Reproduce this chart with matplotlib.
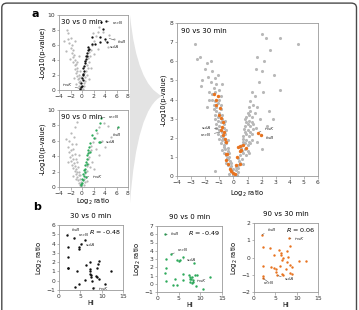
import matplotlib
matplotlib.use("Agg")
import matplotlib.pyplot as plt
from matplotlib.patches import FancyBboxPatch, PathPatch
from matplotlib.path import Path

plt.rcParams['font.family'] = 'DejaVu Sans'
plt.rcParams['font.size'] = 4.5

# ---------------- data: panel a, 30 vs 0 min ----------------
g30_x = [-0.1, -0.3, -0.2, -0.5, -0.4, -0.6, -0.3, -0.7, -0.5, -0.9, -0.6, -1.0, -0.8, -1.2, -0.9,
         -1.3, -1.1, -1.5, -1.2, -1.6, -1.4, -1.8, -1.5, -2.0, -1.7, -2.2, -2.5, -1.9, -2.4, -2.8,
         -2.1, -0.8, -1.0, -1.4, -0.2, -0.4, -3.1, -2.6, -1.2, -0.5,
         0.2, 0.4, 0.3, 0.6, 0.5, 0.8, 0.7, 1.0, 0.9, 1.2, 1.1, 1.4, 1.3, 1.6, 1.8, 2.1, 2.4, 1.5,
         0.6, 2.0, 2.7, 3.0, 3.6, 4.7, 5.6, 4.5, 1.9, 2.8, 1.2, 0.3]
g30_y = [0.1, 0.3, 0.6, 0.5, 0.9, 1.1, 1.2, 1.5, 1.6, 1.9, 2.0, 2.3, 2.5, 2.8, 3.0,
         3.3, 3.5, 3.8, 4.0, 4.4, 4.7, 5.0, 5.3, 5.6, 6.0, 6.3, 6.8, 7.0, 7.6, 5.2,
         4.2, 3.8, 0.8, 1.6, 1.8, 2.6, 6.5, 8.0, 6.6, 4.5,
         0.2, 0.5, 0.9, 1.2, 1.7, 2.0, 2.6, 2.9, 3.4, 3.7, 4.3, 4.6, 5.1, 5.4, 6.0, 6.6, 7.2, 3.0,
         3.9, 4.8, 7.8, 8.4, 7.7, 7.3, 6.8, 5.8, 7.6, 5.5, 1.5, 2.3]
s30_x = [3.3, 4.2, 3.6, 1.7, 3.2, 4.0, 2.2, 3.2, 1.7, 1.1, 1.0, 0.8, 0.66, 0.54, 0.25, 0.14, 0.02,
         -0.1, -0.2, -0.33, 0.7, 0.4, 0.3, 0.1, -0.05, 1.2, 0.9, 0.6, 0.2, 4.4]
s30_y = [9.1, 9.2, 8.2, 7.1, 7.1, 6.8, 6.2, 6.4, 6.2, 5.8, 5.3, 4.9, 4.2, 3.6, 2.9, 2.2, 1.6,
         0.9, 0.36, 0.1, 4.5, 3.2, 2.5, 1.3, 0.6, 5.5, 4.6, 3.9, 2.0, 6.4]

# ---------------- data: panel a, 90 vs 0 min ----------------
g90_x = [-0.1, -0.3, -0.5, -0.2, -0.7, -0.4, -0.9, -0.6, -1.1, -0.8, -1.3, -1.0, -0.5, -1.5, -1.2,
         -0.7, -1.7, -1.4, -0.9, -1.9, -1.6, -1.1, -2.1, -1.8, -1.3, -2.3, -2.0, -1.5, -2.5, -1.8,
         -2.2, -1.0, -1.4, -2.0, -1.2, -0.8, -2.8, -0.3, -1.6, -2.4, -0.6, -1.0,
         0.3, 0.5, 0.4, 0.7, 0.6, 0.9, 0.8, 1.1, 1.0, 1.3, 1.2, 1.5, 1.6, 1.9, 2.2, 1.4, 0.9, 1.7,
         2.4, 2.6, 3.0, 3.8, 4.5, 5.1, 4.0, 2.9, 2.0, 3.4]
g90_y = [0.1, 0.3, 0.5, 0.7, 0.9, 1.1, 1.3, 1.5, 1.7, 1.9, 2.1, 2.3, 2.0, 2.5, 2.7,
         2.6, 2.9, 3.1, 3.2, 3.4, 3.6, 3.7, 3.9, 4.1, 4.3, 4.5, 4.8, 5.0, 5.2, 5.6,
         6.0, 5.6, 6.5, 7.0, 7.8, 8.5, 6.2, 1.6, 1.4, 3.3, 4.2, 1.0,
         0.2, 0.6, 1.0, 1.3, 1.8, 2.1, 2.7, 3.0, 3.6, 3.9, 4.5, 4.8, 5.3, 5.8, 6.4, 2.6, 0.8, 3.3,
         5.0, 7.0, 7.8, 8.3, 7.9, 6.5, 5.2, 4.2, 2.4, 6.0]
s90_x = [3.28, 3.16, 2.46, 6.25, 2.9, 3.2, 1.4, 1.24, 1.13, 0.95, 0.83, 0.72, 0.54, 0.43, 0.25,
         0.08, -0.04, -0.15, 1.4, 1.7, 0.72, 0.6, 0.3, 0.9, 1.0, 0.5, 0.15, 2.1, -0.1]
s90_y = [9.0, 8.3, 7.4, 7.8, 5.9, 5.8, 5.65, 5.2, 4.8, 4.1, 3.7, 3.3, 2.8, 2.2, 1.7,
         1.1, 0.57, 0.2, 4.6, 6.7, 1.3, 2.4, 1.4, 3.0, 4.4, 2.0, 0.9, 6.3, 0.35]

# ---------------- data: panel a, 90 vs 30 min ----------------
g9030_x = [-0.3, -0.2, -0.1, 0.0, -0.25, -0.15, -0.05,
           -0.5, -0.4, -0.35, -0.25, -0.15, -0.45, -0.3,
           -0.7, -0.6, -0.5, -0.4, -0.3, -0.65, -0.35, -0.8,
           -0.9, -0.8, -0.7, -0.6, -0.5, -0.4, -1.0, -0.75,
           -1.1, -1.0, -0.9, -0.8, -0.7, -0.6, -0.5, -1.2,
           -1.2, -1.1, -1.0, -0.9, -0.8, -0.7, -0.6, -1.3,
           -1.3, -1.2, -1.1, -1.0, -0.9, -0.8, -1.4,
           -1.4, -1.3, -1.2, -1.1, -1.0, -0.9, -1.5,
           -1.5, -1.4, -1.3, -1.2, -1.0, -1.6, -1.7, -0.9,
           -1.8, -1.5, -2.0, -1.3, -1.9, -2.4, -1.6, -2.2, -1.1,
           -2.7, -2.6, -2.3, -1.7, -1.9, -1.3, -0.8,
           0.1, 0.2, 0.3, 0.15, 0.35, 0.25,
           0.3, 0.4, 0.5, 0.6, 0.35, 0.7,
           0.5, 0.6, 0.7, 0.8, 0.9, 1.0, 0.55, 1.1,
           0.6, 0.7, 0.8, 0.9, 1.0, 1.1, 1.2, 1.3, 0.65,
           0.7, 0.8, 0.9, 1.0, 1.1, 1.2, 1.3, 1.4, 0.75,
           0.8, 0.9, 1.0, 1.1, 1.2, 1.3, 1.4, 0.85,
           0.9, 1.0, 1.1, 1.2, 1.3, 1.5,
           1.1, 1.2, 1.4, 1.5, 1.3, 1.7,
           2.0, 2.3, 3.3, 4.6, 2.6, 1.7, 1.6, 2.0, 2.1, 2.9, 3.3, 1.9, 2.5, 2.8,
           2.2, 1.8, 2.4, 1.6, 1.7, 2.0]
g9030_y = [0.1, 0.3, 0.2, 0.05, 0.4, 0.5, 0.35,
           0.7, 0.9, 0.6, 0.8, 0.7, 0.95, 1.0,
           1.2, 1.4, 1.1, 1.3, 1.2, 1.5, 1.45, 1.35,
           1.7, 1.9, 1.6, 1.8, 1.7, 1.9, 1.95, 2.0,
           2.2, 2.4, 2.1, 2.3, 2.5, 2.2, 2.4, 2.5,
           2.7, 2.9, 2.6, 2.8, 3.0, 2.7, 2.9, 3.0,
           3.2, 3.4, 3.1, 3.3, 3.5, 3.2, 3.5,
           3.7, 3.9, 3.6, 3.8, 4.0, 3.7, 4.0,
           4.3, 4.6, 4.4, 4.8, 4.5, 4.9, 4.4, 4.2,
           5.2, 5.5, 5.6, 5.1, 5.9, 6.2, 6.0, 5.0, 5.3,
           6.9, 6.1, 4.7, 4.0, 3.6, 0.25, 4.8,
           0.1, 0.3, 0.2, 0.45, 0.4, 0.05,
           0.6, 0.8, 0.7, 0.9, 0.95, 0.65,
           1.1, 1.3, 1.2, 1.4, 1.1, 1.3, 1.45, 1.2,
           1.6, 1.8, 1.7, 1.9, 1.6, 1.8, 1.7, 1.9, 1.95,
           2.1, 2.3, 2.2, 2.4, 2.1, 2.3, 2.2, 2.45, 2.45,
           2.6, 2.8, 2.7, 2.9, 2.6, 2.8, 2.7, 3.0,
           3.1, 3.3, 3.2, 3.4, 3.1, 3.3,
           3.6, 3.9, 3.7, 4.2, 4.4, 3.6,
           7.4, 7.2, 7.2, 6.9, 6.6, 6.2, 5.6, 5.5, 4.4, 5.3, 4.5, 3.0, 3.4, 3.0,
           6.0, 4.9, 2.6, 2.5, 1.8, 1.4]
s9030_x = [-1.38, -1.09, -1.21, -0.97, -1.04, -0.86, -0.74, -0.78, -0.69, -0.74, -0.62, -0.55,
           -0.55, -0.45, -0.38, -0.26, -0.15, -0.03, -1.21, -0.86, -0.5,
           0.09, 0.21, 0.26, 0.33, 0.49, 0.68, 0.56, 0.44, 0.44, 0.87, 1.74, 1.98]
s9030_y = [4.27, 4.19, 3.71, 3.54, 3.19, 3.01, 2.84, 2.57, 2.31, 2.14, 1.96, 1.79,
           1.17, 1.14, 0.65, 0.39, 0.26, 0.16, 3.98, 2.4, 0.82,
           0.12, 0.56, 1.0, 1.52, 1.56, 1.61, 1.38, 1.31, 0.65, 1.49, 2.26, 2.14]

# ---------------- data: panel b (HI vs log2 ratio) ----------------
hi_30 = [1.8, 3.4, 5.1, 4.7, 4.8, 6.2, 2.0, 2.0, 2.1, 2.2, 4.3, 6.25, 7.2, 7.3, 7.3, 7.4, 7.6,
         9.3, 9.1, 9.0, 8.7, 8.9, 9.3, 6.2, 7.8, 4.7, 3.8, 7.9, 10.8, 12.3, 7.3]
lr_30 = [4.93, 4.57, 4.0, 3.6, 3.4, 4.4, 3.6, 2.6, 1.4, 1.35, 1.0, 1.7, 1.3, 1.0, 0.7, 0.6, 0.4,
         2.1, 1.75, 1.4, 0.5, 0.36, 0.2, 0.1, 0.0, -0.36, -0.7, -0.75, -0.4, 1.0, 2.0]
hi_90 = [1.8, 3.3, 4.7, 5.0, 5.3, 6.1, 2.1, 2.0, 1.9, 2.0, 4.1, 3.7, 4.7, 6.1, 6.1, 7.3, 7.5,
         7.6, 7.9, 8.0, 8.3, 8.4, 7.5, 8.8, 9.3, 8.6, 9.0, 10.7, 12.3, 8.0]
lr_90 = [6.0, 3.6, 2.9, 2.7, 2.85, 3.2, 3.0, 1.9, 1.35, 0.35, 0.54, -0.1, -0.1, 1.15, 0.46, 1.04,
         0.85, 0.6, 0.54, 0.77, 0.46, 0.27, 0.27, 1.04, 1.04, 2.46, -0.23, -0.58, 0.85, 0.1]
hi_9030 = [1.77, 8.2, 2.1, 3.8, 8.5, 7.7, 5.9, 4.8, 6.4, 6.4, 6.7, 6.5, 7.9, 7.7, 10.6, 12.3,
           2.1, 4.1, 4.6, 5.2, 6.2, 7.5, 8.5, 8.8, 8.5, 5.2, 6.5, 6.9, 9.0, 2.1, 2.1, 5.5]
lr_9030 = [1.31, 1.13, 0.6, 0.54, 0.69, 0.4, 0.44, 0.17, 0.25, 0.12, -0.04, -0.17, 0.02, -0.27,
           -0.23, -0.23, -0.48, -0.56, -0.62, -0.65, -0.52, -0.65, -0.42, -0.56, -0.9, -0.85,
           -0.94, -1.04, -0.98, -1.08, -1.2, -1.04]
r_values = ["-0.48", "-0.49", "0.06"]

GREY = "#b8b8b8"
BLACK = "#111111"
GREEN = "#2eaa5c"
ORANGE = "#e8731f"
SPINE = "#9a9a9a"

W, H = 359, 310
fig = plt.figure(figsize=(W / 100, H / 100), dpi=100)


def rect(x0, y0, x1, y1):
    # pixel box (top-left origin) -> figure fraction
    return [x0 / W, 1 - y1 / H, (x1 - x0) / W, (y1 - y0) / H]


def style(ax):
    for s in ax.spines.values():
        s.set_color(SPINE)
        s.set_linewidth(0.6)
    ax.tick_params(length=1.8, width=0.5, color=SPINE, pad=1, labelsize=4.3, labelcolor="#333333")


def label(ax, txt, pt, xy, ha="left"):
    ax.annotate(txt, xy=pt, xytext=xy, fontsize=3.2, style="italic", ha=ha, va="center",
                color="#333333",
                arrowprops=dict(arrowstyle="-", lw=0.35, color="#444444", shrinkA=0.5, shrinkB=0.5))


# frame round the whole figure
frame = FancyBboxPatch((0.005, -0.05), 0.988, 1.04, boxstyle="round,pad=0,rounding_size=0.015",
                       transform=fig.transFigure, fill=False, ec="#4a4a4a", lw=1.0)
fig.patches.append(frame)

# grey funnel from the small plots to the big one
pts = [(130, 15), (137, 85), (162, 96), (137, 108), (130, 203), (130, 15)]
verts = [(x / W, 1 - y / H) for x, y in pts]
codes = [Path.MOVETO, Path.CURVE3, Path.CURVE3, Path.CURVE3, Path.CURVE3, Path.CLOSEPOLY]
fig.patches.append(PathPatch(Path(verts, codes), transform=fig.transFigure,
                             fc="#e3e3e3", ec="none", zorder=0))

# ---- a: 30 vs 0 ----
ax1 = fig.add_axes(rect(59, 15, 128, 90))
ax1.scatter(g30_x, g30_y, s=2.6, c=GREY, lw=0)
ax1.scatter(s30_x, s30_y, s=2.8, c=BLACK, lw=0)
ax1.set_xlim(-4, 8)
ax1.set_ylim(0, 10)
ax1.set_xticks(range(-4, 9, 2))
ax1.set_yticks(range(0, 11, 2))
ax1.set_ylabel("-Log10(p-value)", fontsize=4.8, labelpad=1)
ax1.text(0.03, 0.95, "30 vs 0 min", transform=ax1.transAxes, fontsize=5, va="top")
label(ax1, "recN", (4.3, 9.2), (5.3, 9.0))
label(ax1, "tisB", (4.6, 6.9), (6.2, 6.4))
label(ax1, "sulA", (3.9, 6.6), (4.8, 5.8))
label(ax1, "insK", (-0.3, 0.2), (-1.8, 0.6), ha="right")
style(ax1)

# ---- a: 90 vs 0 ----
ax2 = fig.add_axes(rect(59, 110, 128, 187))
ax2.scatter(g90_x, g90_y, s=2.6, c=GREY, lw=0)
ax2.scatter(s90_x, s90_y, s=2.8, c=GREEN, lw=0)
ax2.set_xlim(-4, 8)
ax2.set_ylim(0, 10)
ax2.set_xticks(range(-4, 9, 2))
ax2.set_yticks(range(0, 11, 2))
ax2.set_ylabel("-Log10(p-value)", fontsize=4.8, labelpad=1)
ax2.set_xlabel("Log$_2$ ratio", fontsize=4.8, labelpad=1)
ax2.text(0.03, 0.95, "90 vs 0 min", transform=ax2.transAxes, fontsize=5, va="top")
label(ax2, "recN", (3.4, 9.0), (4.6, 9.1))
label(ax2, "tisB", (6.25, 7.8), (6.0, 6.7), ha="center")
label(ax2, "sulA", (3.2, 5.8), (4.1, 5.9))
label(ax2, "insK", (0.83, 1.4), (1.8, 1.3))
style(ax2)

# ---- a: 90 vs 30 ----
ax3 = fig.add_axes(rect(177, 23, 318, 176))
ax3.scatter(g9030_x, g9030_y, s=5, c=GREY, lw=0)
ax3.scatter(s9030_x, s9030_y, s=6, c=ORANGE, lw=0)
ax3.set_xlim(-4, 6)
ax3.set_ylim(0, 8)
ax3.set_xticks(range(-4, 7))
ax3.set_yticks(range(0, 9))
ax3.set_ylabel("-Log10(p-value)", fontsize=4.8, labelpad=2)
ax3.set_xlabel("Log$_2$ ratio", fontsize=4.8, labelpad=3)
ax3.text(0.03, 0.97, "90 vs 30 min", transform=ax3.transAxes, fontsize=5, va="top")
label(ax3, "sulA", (-1.0, 2.45), (-1.6, 2.52), ha="right")
label(ax3, "recN", (-0.9, 2.3), (-1.6, 2.14), ha="right")
label(ax3, "insK", (1.8, 2.3), (2.2, 2.45))
label(ax3, "tisB", (2.0, 2.15), (2.3, 2.0))
style(ax3)

# ---- b: HI scatter plots ----
bx1 = fig.add_axes(rect(59, 225, 123, 290))
bx1.scatter(hi_30, lr_30, s=3, c=BLACK, lw=0)
bx1.set_xlim(0, 15)
bx1.set_ylim(-1, 6)
bx1.set_yticks(range(-1, 7))
label(bx1, "tisB", (1.8, 4.93), (3.0, 5.5))
label(bx1, "recN", (3.4, 4.57), (4.6, 4.9))
label(bx1, "sulA", (5.1, 4.0), (6.4, 3.8))
label(bx1, "insK", (7.9, -0.75), (9.3, -0.9))

bx2 = fig.add_axes(rect(157, 226, 222, 292))
bx2.scatter(hi_90, lr_90, s=3, c=GREEN, lw=0)
bx2.set_xlim(0, 15)
bx2.set_ylim(-1, 7)
bx2.set_yticks(range(-1, 8))
label(bx2, "tisB", (1.8, 6.0), (3.2, 6.0))
label(bx2, "recN", (3.3, 3.6), (4.8, 4.1))
label(bx2, "sulA", (6.1, 3.0), (7.0, 2.9))
label(bx2, "insK", (8.4, 0.27), (9.3, 0.3))

bx3 = fig.add_axes(rect(254, 223, 318, 292))
bx3.scatter(hi_9030, lr_9030, s=3, c=ORANGE, lw=0)
bx3.set_xlim(0, 15)
bx3.set_ylim(-2, 2)
bx3.set_yticks(range(-2, 3))
label(bx3, "tisB", (1.77, 1.31), (3.2, 1.6))
label(bx3, "insK", (8.2, 1.13), (9.5, 1.05))
label(bx3, "recN", (2.1, -1.2), (3.5, -1.45), ha="center")
label(bx3, "sulA", (5.5, -1.04), (7.2, -1.27))

for bx, title, r in zip([bx1, bx2, bx3], ["30 vs 0 min", "90 vs 0 min", "90 vs 30 min"], r_values):
    bx.set_xticks([0, 5, 10, 15])
    bx.set_xlabel("HI", fontsize=4.8, labelpad=1)
    bx.set_ylabel("Log$_2$ ratio", fontsize=4.8, labelpad=1)
    bx.set_title(title, fontsize=5, pad=5)
    bx.text(0.97, 0.96, "$R$ = " + r, transform=bx.transAxes, fontsize=4.6, ha="right", va="top")
    style(bx)

fig.text(35 / W, 1 - 14 / H, "a", fontsize=8, fontweight="bold", ha="center", va="center")
fig.text(37 / W, 1 - 207 / H, "b", fontsize=8, fontweight="bold", ha="center", va="center")

fig.savefig("out.png", dpi=100)
